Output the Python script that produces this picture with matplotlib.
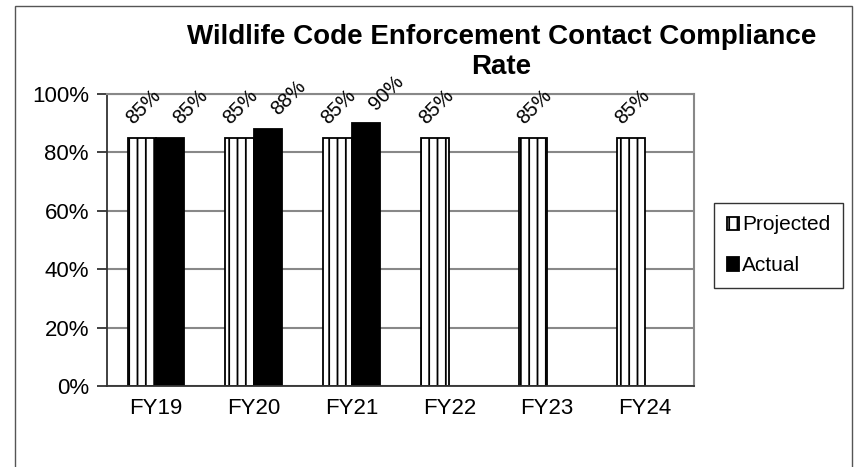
import matplotlib
matplotlib.use("Agg")
import matplotlib.pyplot as plt
import numpy as np
from matplotlib.patches import Rectangle

categories = ["FY19", "FY20", "FY21", "FY22", "FY23", "FY24"]
projected = [85, 85, 85, 85, 85, 85]
actual = [85, 88, 90, None, None, None]
yticks = [0, 20, 40, 60, 80, 100]
ytick_labels = ["0%", "20%", "40%", "60%", "80%", "100%"]
title = "Wildlife Code Enforcement Contact Compliance\nRate"

plt.rcParams['font.family'] = ['Liberation Sans', 'DejaVu Sans']
plt.rcParams['hatch.linewidth'] = 1.3

fig = plt.figure(figsize=(8.55, 4.67), dpi=100)
ax = fig.add_axes([107/855, 1-386/467, (694-107)/855, (386-94)/467])

x = np.arange(len(categories))
w = 0.29
bp = ax.bar(x - w/2, projected, w, color='white', edgecolor='black',
            linewidth=1.3, hatch='||', label='Projected', zorder=3)
act_x = [xi + w/2 for xi, v in zip(x, actual) if v is not None]
act_v = [v for v in actual if v is not None]
ba = ax.bar(act_x, act_v, w, color='black', edgecolor='black',
            linewidth=1.3, label='Actual', zorder=3)

lab_fs = 14.5
for xi, v in zip(x - w/2, projected):
    ax.annotate(f"{v}%", (xi, v), xytext=(1, 7), textcoords='offset points',
                rotation=45, ha='center', va='bottom', fontsize=lab_fs, zorder=5)
for xi, v in zip(act_x, act_v):
    ax.annotate(f"{v}%", (xi, v), xytext=(15, 7), textcoords='offset points',
                rotation=45, ha='center', va='bottom', fontsize=lab_fs, zorder=5)

ax.set_xlim(-0.5, len(categories) - 0.5)
ax.set_ylim(0, 100)
ax.set_yticks(yticks)
ax.set_yticklabels(ytick_labels, fontsize=16)
ax.set_xticks(x)
ax.set_xticklabels(categories, fontsize=16)
ax.tick_params(axis='x', length=0, pad=9)
ax.tick_params(axis='y', length=7, width=1.3, color='#333333', pad=6)
ax.yaxis.grid(True, color='#888888', linewidth=1.5, zorder=0)
ax.set_axisbelow(True)
for s in ['top', 'right']:
    ax.spines[s].set_color('#888888')
    ax.spines[s].set_linewidth(1.5)
for s in ['left', 'bottom']:
    ax.spines[s].set_color('#333333')
    ax.spines[s].set_linewidth(1.3)
ax.spines['bottom'].set_zorder(4)

fig.text(0.5866, 1 - 24/467, title, ha='center', va='top', fontsize=20,
         fontweight='bold', linespacing=1.2)

leg = fig.legend(handles=[bp, ba], labels=['Projected', 'Actual'],
                 loc='upper left', bbox_to_anchor=(714/855, 1 - 203/467),
                 fontsize=15, frameon=True, fancybox=False,
                 handlelength=0.6, handleheight=0.6, handletextpad=0.15,
                 labelspacing=1.05, borderpad=0.6, borderaxespad=0)
leg.get_frame().set_edgecolor('black')
leg.get_frame().set_linewidth(1.0)

fig.patches.append(Rectangle((15/855, -0.05), (852-15)/855, 1.05 - 6/467,
                             transform=fig.transFigure, fill=False,
                             edgecolor='#555555', linewidth=1.0))

fig.savefig("out.png", dpi=100)
